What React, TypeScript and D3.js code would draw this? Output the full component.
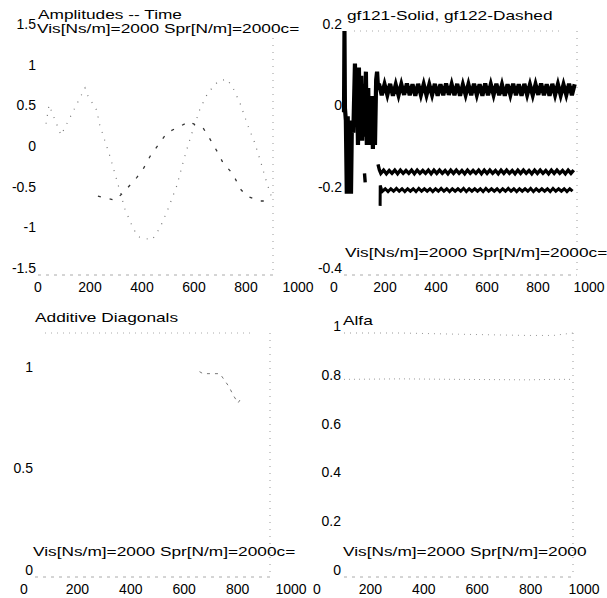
import React, { useRef, useEffect } from "react";
import * as d3 from "d3";

const xTicks = [0, 200, 400, 600, 800, 1000];

// Amplitudes -- Time
const ampTicks = [-1.5, -1, -0.5, 0, 0.5, 1, 1.5];
const ampTime1 = [34, 47, 98, 200, 213, 251, 260, 306, 336, 370, 404, 426, 485, 519, 553, 591, 617, 638, 660, 689, 723, 766, 804, 830, 860, 894, 923, 953, 974, 996];
const ampValue1 = [0.36, 0.59, 0.22, 0.8, 0.7, 0.52, 0.37, -0.04, -0.34, -0.69, -0.92, -1.03, -1.07, -0.92, -0.69, -0.4, -0.12, 0.09, 0.29, 0.54, 0.74, 0.88, 0.91, 0.8, 0.61, 0.33, 0.12, -0.16, -0.37, -0.56];
const ampTime2 = [255, 328, 362, 421, 447, 477, 549, 647, 660, 702, 732, 766, 787, 830, 860, 889, 945, 987];
const ampValue2 = [-0.53, -0.58, -0.49, -0.3, -0.2, -0.04, 0.25, 0.39, 0.36, 0.31, 0.17, 0, -0.12, -0.26, -0.44, -0.53, -0.59, -0.59];

// gf121 solid, gf122 dashed
const gfTicks = [-0.4, -0.2, 0, 0.2];
const gfSolidTime = [0, 2, 4, 8, 12, 16, 20, 26, 30, 34, 40, 47, 50, 56, 60, 64, 68, 74, 78, 84, 88, 94, 98, 104, 108, 112, 116, 120, 124, 128, 133, 138, 142, 146];
const gfSolidValue = [0, 0.2, 0.01, -0.02, -0.2, -0.01, -0.19, -0.03, -0.2, -0.02, -0.05, 0.12, -0.01, 0.06, -0.08, 0.11, -0.05, 0.09, -0.07, 0.07, -0.06, 0.1, -0.08, 0.06, -0.08, 0.02, -0.08, 0.04, -0.09, 0.03, -0.08, 0.08, 0.1, 0.06];
const gfSolidStart = 150;
const gfSolidSteady = [
  0.070, 0.042, 0.069, 0.043, 0.070, 0.041, 0.068, 0.042, 0.069, 0.043,
  0.071, 0.042, 0.069, 0.041, 0.070, 0.043, 0.069, 0.042, 0.068, 0.043,
  0.070, 0.041, 0.069, 0.042, 0.071, 0.043, 0.069, 0.042, 0.070, 0.041,
  0.068, 0.043, 0.069, 0.042, 0.070, 0.043, 0.069, 0.041, 0.071, 0.042,
  0.069, 0.043, 0.070, 0.042, 0.068, 0.041, 0.069, 0.043, 0.070, 0.042,
  0.069, 0.041, 0.070, 0.043, 0.068, 0.042, 0.069, 0.043, 0.071, 0.042,
  0.069, 0.041, 0.070, 0.043, 0.069, 0.042, 0.068, 0.043, 0.070, 0.042,
  0.069,
];
const gfDashTime = [88, 91, 130, 146, 152];
const gfDashValue = [-0.15, -0.172, NaN, -0.128, -0.142];
const gfDashStart = 158;
const gfDashSteady = [
  -0.150, -0.142, -0.151, -0.143, -0.150, -0.142, -0.151, -0.142, -0.150, -0.143,
  -0.150, -0.142, -0.151, -0.142, -0.150, -0.143, -0.150, -0.142, -0.151, -0.142,
  -0.150, -0.142, -0.150, -0.143, -0.151, -0.142, -0.150, -0.142, -0.150, -0.143,
  -0.151, -0.142, -0.150, -0.143, -0.150, -0.142, -0.151, -0.142, -0.150, -0.142,
  -0.150, -0.143, -0.151, -0.142, -0.150, -0.142, -0.150, -0.143, -0.151, -0.142,
  -0.150, -0.142, -0.150, -0.143, -0.151, -0.142, -0.150, -0.142, -0.150, -0.143,
  -0.151, -0.142, -0.150, -0.142, -0.150, -0.143, -0.151, -0.142, -0.150, -0.142,
];
const gfDash2Time = [155, 155.5, 160];
const gfDash2Value = [-0.23, -0.18, -0.188];
const gfDash2Start = 165;
const gfDash2Steady = [
  -0.194, -0.188, -0.195, -0.188, -0.194, -0.187, -0.194, -0.188, -0.195, -0.188,
  -0.194, -0.188, -0.195, -0.187, -0.194, -0.188, -0.194, -0.188, -0.195, -0.188,
  -0.194, -0.187, -0.194, -0.188, -0.195, -0.188, -0.194, -0.188, -0.194, -0.187,
  -0.195, -0.188, -0.194, -0.188, -0.194, -0.188, -0.195, -0.187, -0.194, -0.188,
  -0.194, -0.188, -0.195, -0.188, -0.194, -0.187, -0.194, -0.188, -0.195, -0.188,
  -0.194, -0.188, -0.194, -0.187, -0.195, -0.188, -0.194, -0.188, -0.194, -0.188,
  -0.195, -0.187, -0.194, -0.188, -0.194, -0.188, -0.195, -0.188, -0.194,
];
const gfStep = 12;

// Additive Diagonals
const diagTicks = [0, 0.5, 1];
const diagTime = [700, 715, 757, 787, 826, 843, 864, 872];
const diagValue = [1.01, 1.0, 1.0, 1.0, 0.935, 0.895, 0.856, 0.87];

// Alfa
const alfaTicks = [0, 0.2, 0.4, 0.6, 0.8, 1];
const alfaTime = [0, 250, 500, 800, 915, 1000];
const alfaValue1 = [1.0, 1.0, 0.995, 0.99, 0.99, 1.0];
const alfaValue2 = [0.81, 0.812, 0.81, 0.808, 0.81, 0.81];

const paramText = "Vis[Ns/m]=2000 Spr[N/m]=2000c=";
const FONT = "'Liberation Sans', Arial, Helvetica, sans-serif";

const App = () => {
  const svgRef = useRef<SVGSVGElement>(null);

  useEffect(() => {
    const svg = d3.select(svgRef.current);
    svg.selectAll("*").remove();

    // the scanned titles are wide but short, so stretch them sideways
    const wideText = (str: string, x: number, y: number) =>
      svg.append("text")
        .attr("transform", `translate(${x},${y}) scale(1.33,1)`)
        .attr("font-size", 13)
        .attr("font-family", FONT)
        .attr("fill", "#000")
        .text(str);

    const label = (g: any, str: string, x: number, y: number, anchor: string) =>
      g.append("text")
        .attr("x", x).attr("y", y)
        .attr("text-anchor", anchor)
        .attr("font-size", 14)
        .attr("font-family", FONT)
        .attr("fill", "#000")
        .text(str);

    const panel = (p: any) => {
      const x = d3.scaleLinear().domain([0, 1000]).range([p.x0, p.x1]);
      const y = d3.scaleLinear().domain(p.yDomain).range([p.y1, p.y0]);
      const xl = d3.scaleLinear().domain([0, 1000]).range(p.xLabelRange);
      const g = svg.append("g");

      // faint frame (the scan lost most of it)
      if (p.top) {
        g.append("line").attr("x1", p.x0 + 10).attr("x2", p.x1 - 15).attr("y1", p.y0).attr("y2", p.y0)
          .attr("stroke", "#aaa").attr("stroke-dasharray", "1 5");
      }
      g.append("line").attr("x1", p.x1).attr("x2", p.x1).attr("y1", p.y0).attr("y2", p.y1)
        .attr("stroke", "#999").attr("stroke-dasharray", "1 6");
      g.append("line").attr("x1", p.x0).attr("x2", p.x1).attr("y1", p.y1).attr("y2", p.y1)
        .attr("stroke", "#aaa").attr("stroke-dasharray", "3 5");

      p.yTicks.forEach((d: number) => label(g, String(d), p.yLabelX, y(d) - 2, "end"));
      xTicks.forEach((d) => label(g, String(d), xl(d), p.y1 + 17, "middle"));

      const line = d3.line<[number, number]>()
        .defined((d) => !isNaN(d[1]))
        .x((d) => x(d[0]))
        .y((d) => y(d[1]));

      return { g, line };
    };

    const steady = (start: number, vals: number[]) =>
      vals.map((v, i) => [start + i * gfStep, v] as [number, number]);

    // Amplitudes -- Time
    const amp = panel({ x0: 38, x1: 273, y0: 31, y1: 275, yDomain: [-1.5, 1.5], yTicks: ampTicks, yLabelX: 36, xLabelRange: [38, 298] });
    amp.g.append("path").attr("d", amp.line(d3.zip(ampTime1, ampValue1) as any))
      .attr("fill", "none").attr("stroke", "#777").attr("stroke-width", 1.2).attr("stroke-dasharray", "1 7");
    amp.g.append("path").attr("d", amp.line(d3.zip(ampTime2, ampValue2) as any))
      .attr("fill", "none").attr("stroke", "#333").attr("stroke-width", 1.3).attr("stroke-dasharray", "3 9");
    wideText("Amplitudes -- Time", 38, 19);
    wideText(paramText, 37, 33);

    // gf121 / gf122
    const gf = panel({ x0: 344, x1: 577, y0: 31, y1: 275, yDomain: [-0.4, 0.2], yTicks: gfTicks, yLabelX: 342, xLabelRange: [334, 589], top: true });
    const solid = (d3.zip(gfSolidTime, gfSolidValue) as [number, number][]).concat(steady(gfSolidStart, gfSolidSteady));
    const dash = (d3.zip(gfDashTime, gfDashValue) as [number, number][]).concat(steady(gfDashStart, gfDashSteady));
    const dash2 = (d3.zip(gfDash2Time, gfDash2Value) as [number, number][]).concat(steady(gfDash2Start, gfDash2Steady));
    gf.g.append("path").attr("d", gf.line(solid)).attr("fill", "none").attr("stroke", "#000")
      .attr("stroke-width", 4.2).attr("stroke-linejoin", "miter");
    gf.g.append("path").attr("d", gf.line(dash)).attr("fill", "none").attr("stroke", "#000")
      .attr("stroke-width", 3.4).attr("stroke-linejoin", "miter");
    gf.g.append("path").attr("d", gf.line(dash2)).attr("fill", "none").attr("stroke", "#000")
      .attr("stroke-width", 3).attr("stroke-linejoin", "miter");
    wideText("gf121-Solid, gf122-Dashed", 347, 20);
    wideText(paramText, 345, 257);

    // Additive Diagonals
    const diag = panel({ x0: 35, x1: 270, y0: 333, y1: 577, yDomain: [0, 1.2], yTicks: diagTicks, yLabelX: 33, xLabelRange: [24, 291], top: true });
    diag.g.append("path").attr("d", diag.line(d3.zip(diagTime, diagValue) as any))
      .attr("fill", "none").attr("stroke", "#777").attr("stroke-width", 1).attr("stroke-dasharray", "3 5");
    wideText("Additive Diagonals", 35, 322);
    wideText(paramText, 33, 556);

    // Alfa
    const alfa = panel({ x0: 344, x1: 573, y0: 333, y1: 577, yDomain: [0, 1], yTicks: alfaTicks, yLabelX: 341, xLabelRange: [317, 584] });
    alfa.g.append("path").attr("d", alfa.line(d3.zip(alfaTime, alfaValue1) as any))
      .attr("fill", "none").attr("stroke", "#999").attr("stroke-width", 1).attr("stroke-dasharray", "1 5");
    alfa.g.append("path").attr("d", alfa.line(d3.zip(alfaTime, alfaValue2) as any))
      .attr("fill", "none").attr("stroke", "#999").attr("stroke-width", 1).attr("stroke-dasharray", "1 4");
    wideText("Alfa", 343, 325);
    wideText("Vis[Ns/m]=2000 Spr[N/m]=2000", 343, 556);
  }, []);

  return (
    <svg
      ref={svgRef}
      width={607}
      height={598}
      style={{ position: "absolute", left: 0, top: 0, background: "#fff" }}
    />
  );
};

export default App;
